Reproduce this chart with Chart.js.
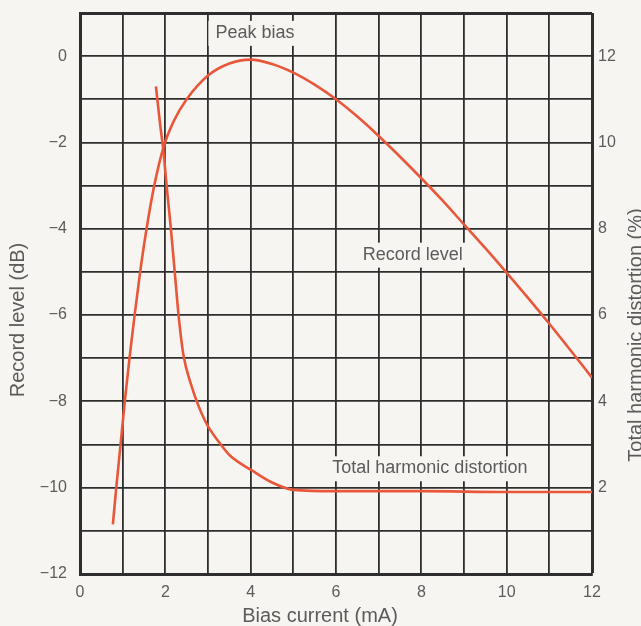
<!DOCTYPE html>
<html>
<head>
<meta charset="utf-8">
<title>Bias current vs record level and THD</title>
<script src="https://cdn.jsdelivr.net/npm/chart.js@4.4.1/dist/chart.umd.min.js"></script>
<style>
  html, body { margin: 0; padding: 0; background: #f6f5f1; }
  canvas { display: block; }
</style>
</head>
<body>
<canvas id="biasChart" width="641" height="626"></canvas>
<script>
// values
const recordBias = [0.77, 0.85, 0.95, 1.05, 1.16, 1.28, 1.41, 1.56, 1.74, 1.96, 2.2, 2.5, 3.0, 3.5, 4.0, 4.5, 5.0, 5.5, 6.0, 6.5, 7.0, 7.5, 8.0, 8.5, 9.0, 9.5, 10.0, 10.5, 11.0, 11.5, 12.0];
const recordLevel = [-10.85, -10, -9, -8, -7, -6, -5, -4, -3, -2.1, -1.5, -1.0, -0.45, -0.17, -0.08, -0.18, -0.38, -0.66, -1.0, -1.4, -1.85, -2.33, -2.83, -3.35, -3.9, -4.45, -5.02, -5.6, -6.2, -6.82, -7.45];

const thdBias = [1.78, 1.88, 1.95, 2.03, 2.13, 2.22, 2.31, 2.42, 2.6, 2.93, 3.3, 3.52, 4.03, 4.5, 5.0, 6.0, 8.0, 10.0, 12.0];
const thdPercent = [11.3, 10.4, 9.85, 9.0, 8.0, 7.0, 6.0, 5.1, 4.4, 3.55, 3.0, 2.74, 2.4, 2.12, 1.95, 1.92, 1.92, 1.9, 1.9];

const biasTicks = [0, 2, 4, 6, 8, 10, 12];
const levelTicks = [0, -2, -4, -6, -8, -10, -12];
const thdTicks = [2, 4, 6, 8, 10, 12];

const curveLabels = ['Peak bias', 'Record level', 'Total harmonic distortion'];

const BG = '#f6f5f1';
const GRID = '#2e2e2e';
const RED = '#e9573a';
const TEXT = '#5b5b5b';
const FONT = '"Liberation Sans", Arial, Helvetica, sans-serif';

function toPoints(xs, ys) {
  return xs.map((x, i) => ({ x: x, y: ys[i] }));
}

function minusSign(v) {
  return v < 0 ? '\u2212' + Math.abs(v) : String(v);
}

// keep the plot box where the picture has it: no extra room for edge labels
function fixBox(size, key) {
  return function (scale) {
    scale[key] = size;
    scale.paddingTop = 0;
    scale.paddingBottom = 0;
    scale.paddingLeft = 0;
    scale.paddingRight = 0;
  };
}

// text labels inside the plot, placed in data units, with a blank box behind them
const labelPlaces = [
  { text: curveLabels[0], x: 4.1, y: 0.54 },
  { text: curveLabels[1], x: 7.8, y: -4.6 },
  { text: curveLabels[2], x: 8.2, y: -9.55 },
];

const textPlugin = {
  id: 'textPlugin',
  afterDraw(chart) {
    const ctx = chart.ctx;
    const xs = chart.scales.x;
    const ys = chart.scales.y;
    ctx.save();
    ctx.font = '18px ' + FONT;
    ctx.textAlign = 'center';
    ctx.textBaseline = 'middle';
    labelPlaces.forEach(l => {
      const px = xs.getPixelForValue(l.x);
      const py = ys.getPixelForValue(l.y);
      const w = ctx.measureText(l.text).width;
      ctx.fillStyle = BG;
      ctx.fillRect(px - w / 2 - 7, py - 12, w + 14, 25);
      ctx.fillStyle = TEXT;
      ctx.fillText(l.text, px, py);
    });

    // axis titles
    ctx.font = '20px ' + FONT;
    ctx.fillStyle = TEXT;
    ctx.save();
    ctx.translate(18, 320);
    ctx.rotate(-Math.PI / 2);
    ctx.fillText('Record level (dB)', 0, 0);
    ctx.restore();

    ctx.save();
    ctx.translate(636, 335);
    ctx.rotate(-Math.PI / 2);
    ctx.fillText('Total harmonic distortion (%)', 0, 0);
    ctx.restore();

    ctx.fillText('Bias current (mA)', 320, 616);
    ctx.restore();
  }
};

const canvas = document.getElementById('biasChart');

const chart = new Chart(canvas, {
  type: 'line',
  data: {
    datasets: [
      {
        label: 'Record level',
        data: toPoints(recordBias, recordLevel),
        yAxisID: 'y',
        borderColor: RED,
        borderWidth: 2.6,
        pointRadius: 0,
        cubicInterpolationMode: 'monotone',
        fill: false,
      },
      {
        label: 'Total harmonic distortion',
        data: toPoints(thdBias, thdPercent),
        yAxisID: 'y2',
        borderColor: RED,
        borderWidth: 2.6,
        pointRadius: 0,
        cubicInterpolationMode: 'monotone',
        fill: false,
      },
    ],
  },
  options: {
    responsive: false,
    animation: false,
    layout: { padding: { top: 13, left: 0, right: 0, bottom: 0 } },
    plugins: {
      legend: { display: false },
      tooltip: { enabled: false },
    },
    scales: {
      x: {
        type: 'linear',
        min: 0,
        max: 12,
        afterFit: fixBox(52, 'height'),
        border: { display: true, color: GRID, width: 3 },
        grid: {
          color: GRID,
          drawTicks: false,
          lineWidth: c => (c.tick && c.tick.value === 12 ? 3 : 1.8),
        },
        ticks: {
          stepSize: 1,
          autoSkip: false,
          maxRotation: 0,
          padding: 9,
          color: TEXT,
          font: { family: FONT, size: 16 },
          callback: v => (biasTicks.includes(v) ? String(v) : ''),
        },
      },
      y: {
        type: 'linear',
        position: 'left',
        min: -12,
        max: 1,
        afterFit: fixBox(80, 'width'),
        border: { display: true, color: GRID, width: 3 },
        grid: {
          color: GRID,
          drawTicks: false,
          lineWidth: c => (c.tick && c.tick.value === 1 ? 3 : 1.8),
        },
        ticks: {
          stepSize: 1,
          autoSkip: false,
          padding: 13,
          color: TEXT,
          font: { family: FONT, size: 16 },
          callback: v => (levelTicks.includes(v) ? minusSign(v) : ''),
        },
      },
      y2: {
        type: 'linear',
        position: 'right',
        min: 0,
        max: 13,
        afterFit: fixBox(49, 'width'),
        border: { display: false },
        grid: { display: false, drawTicks: false },
        ticks: {
          stepSize: 1,
          autoSkip: false,
          padding: 6,
          color: TEXT,
          font: { family: FONT, size: 16 },
          callback: v => (thdTicks.includes(v) ? String(v) : ''),
        },
      },
    },
  },
  plugins: [textPlugin],
});
</script>
</body>
</html>
